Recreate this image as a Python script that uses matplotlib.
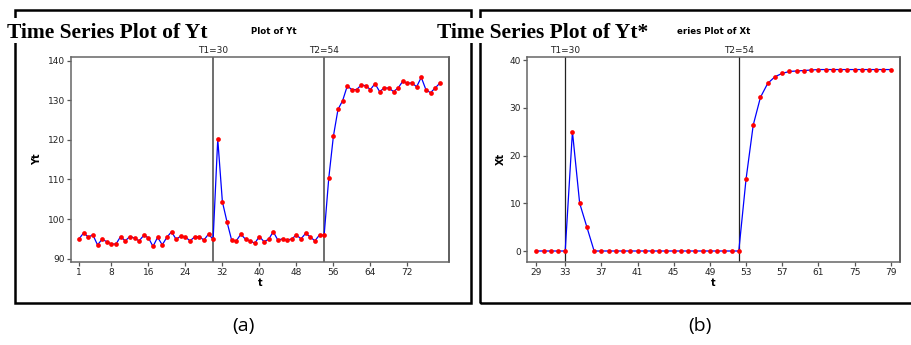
import numpy as np
import matplotlib
matplotlib.use("Agg")
import matplotlib.pyplot as plt
from matplotlib.patches import Rectangle

# ---- data -------------------------------------------------------------
t_a = list(range(1, 80))
yt = [95.0, 96.5, 95.5, 96.0, 93.5, 94.9, 94.3, 93.7, 93.7, 95.6,
      94.5, 95.6, 95.2, 94.5, 95.9, 95.3, 93.1, 95.4, 93.5, 95.4,
      96.8, 94.9, 95.7, 95.5, 94.5, 95.5, 95.6, 94.7, 96.2, 94.9,
      120.2, 104.4, 99.3, 94.7, 94.5, 96.2, 94.9, 94.5, 93.9, 95.6,
      94.3, 94.9, 96.8, 94.7, 95.0, 94.7, 95.0, 96.0, 95.0, 96.4,
      95.5, 94.5, 96.0, 95.9, 110.3, 120.9, 127.7, 129.9, 133.6, 132.7,
      132.7, 133.8, 133.7, 132.7, 134.2, 132.2, 133.1, 133.1, 132.2, 133.1,
      134.8, 134.3, 134.4, 133.4, 135.8, 132.7, 131.9, 133.1, 134.3]
ya_ticks = [90, 100, 110, 120, 130, 140]
xa_ticks = [1, 8, 16, 24, 32, 40, 48, 56, 64, 72]

xt = [0, 0, 0, 0, 0, 25, 10, 5,
      0, 0, 0, 0, 0, 0, 0, 0, 0, 0, 0, 0, 0, 0, 0, 0, 0, 0, 0, 0, 0,
      15, 26.4, 32.2, 35.1, 36.5, 37.2, 37.6, 37.7, 37.8, 37.9,
      38, 38, 38, 38, 38, 38, 38, 38, 38, 38, 38]
yb_ticks = [0, 10, 20, 30, 40]
xb_tick_pos = [0, 4, 9, 14, 19, 24, 29, 34, 39, 44, 49]
xb_tick_labels = ['29', '33', '37', '41', '45', '49', '53', '57', '61', '75', '79']

ref_a = [(30, 'T1=30'), (54, 'T2=54')]
ref_b = [(4, 'T1=30'), (28, 'T2=54')]

# ---- figure -----------------------------------------------------------
W, H = 911, 345
fig = plt.figure(figsize=(W / 100, H / 100), dpi=100)


def fx(px):
    return px / W


def fy(py):
    return 1 - py / H


def style_axes(ax):
    for s in ax.spines.values():
        s.set_color('#666666')
        s.set_linewidth(1.1)
    ax.spines['right'].set_color('#333333')
    ax.tick_params(direction='out', length=3, width=0.9, color='#555555',
                   labelsize=6.5, pad=1.5, labelcolor='#222222')


# outer panel frames
for x0, x1 in [(15, 471), (479.5, 930)]:
    fig.add_artist(Rectangle((fx(x0), fy(302.5)), fx(x1) - fx(x0),
                             fy(9.5) - fy(302.5), transform=fig.transFigure,
                             fill=False, edgecolor='black', linewidth=1.8,
                             zorder=1))

# left panel
ax1 = fig.add_axes([fx(71), fy(261.7), fx(449) - fx(71), fy(57) - fy(261.7)])
ax1.plot(t_a, yt, color='#0000ff', lw=0.9, marker='o', ms=3.4,
         mfc='#ff0000', mec='#ff0000', mew=0, zorder=3)
for xv, lab in ref_a:
    ax1.axvline(xv, color='#555555', lw=1.2, zorder=2)
    ax1.text(xv, 1.012, lab, transform=ax1.get_xaxis_transform(),
             ha='center', va='bottom', fontsize=6.5, color='#222222')
ax1.set_xlim(-0.73, 81.0)
ax1.set_ylim(89.24, 140.93)
ax1.set_yticks(ya_ticks)
ax1.set_xticks(xa_ticks)
ax1.set_xlabel('t', fontsize=7, fontweight='bold', labelpad=1)
ax1.set_ylabel('Yt', fontsize=7, fontweight='bold', labelpad=4)
style_axes(ax1)

# right panel
xb = np.arange(len(xt))
ax2 = fig.add_axes([fx(527.3), fy(261.7), fx(900) - fx(527.3), fy(57) - fy(261.7)])
ax2.plot(xb, xt, color='#0000ff', lw=0.9, marker='o', ms=3.4,
         mfc='#ff0000', mec='#ff0000', mew=0, zorder=3)
for xv, lab in ref_b:
    ax2.axvline(xv, color='#222222', lw=0.9, zorder=2)
    ax2.text(xv, 1.012, lab, transform=ax2.get_xaxis_transform(),
             ha='center', va='bottom', fontsize=6.5, color='#222222')
ax2.set_xlim(-1.24, 50.29)
ax2.set_ylim(-2.24, 40.63)
ax2.set_yticks(yb_ticks)
ax2.set_xticks(xb_tick_pos)
ax2.set_xticklabels(xb_tick_labels)
ax2.set_xlabel('t', fontsize=7, fontweight='bold', labelpad=1)
ax2.set_ylabel('Xt', fontsize=7, fontweight='bold', labelpad=3)
style_axes(ax2)

# visible tails of the small chart titles
fig.text(fx(251), fy(31), 'Plot of Yt', ha='left', va='center',
         fontsize=6.2, fontweight='bold', zorder=2)
fig.text(fx(677), fy(31), 'eries Plot of Xt', ha='left', va='center',
         fontsize=6.2, fontweight='bold', zorder=2)

# large headings on white strips
for x0, x1 in [(3, 248), (433, 675)]:
    fig.add_artist(Rectangle((fx(x0), fy(43)), fx(x1) - fx(x0), fy(18) - fy(43),
                             transform=fig.transFigure, facecolor='white',
                             edgecolor='none', zorder=4))
fig.text(fx(7), fy(38), 'Time Series Plot of Yt', ha='left', va='baseline',
         fontsize=15.5, fontweight='bold', family='Liberation Serif', zorder=5)
fig.text(fx(437), fy(38), 'Time Series Plot of Yt*', ha='left', va='baseline',
         fontsize=15.5, fontweight='bold', family='Liberation Serif', zorder=5)

# panel captions
fig.text(fx(243), fy(326), '(a)', ha='center', va='center', fontsize=14,
         family='Open Sans')
fig.text(fx(700), fy(326), '(b)', ha='center', va='center', fontsize=14,
         family='Open Sans')

fig.savefig('out.png', dpi=100)
